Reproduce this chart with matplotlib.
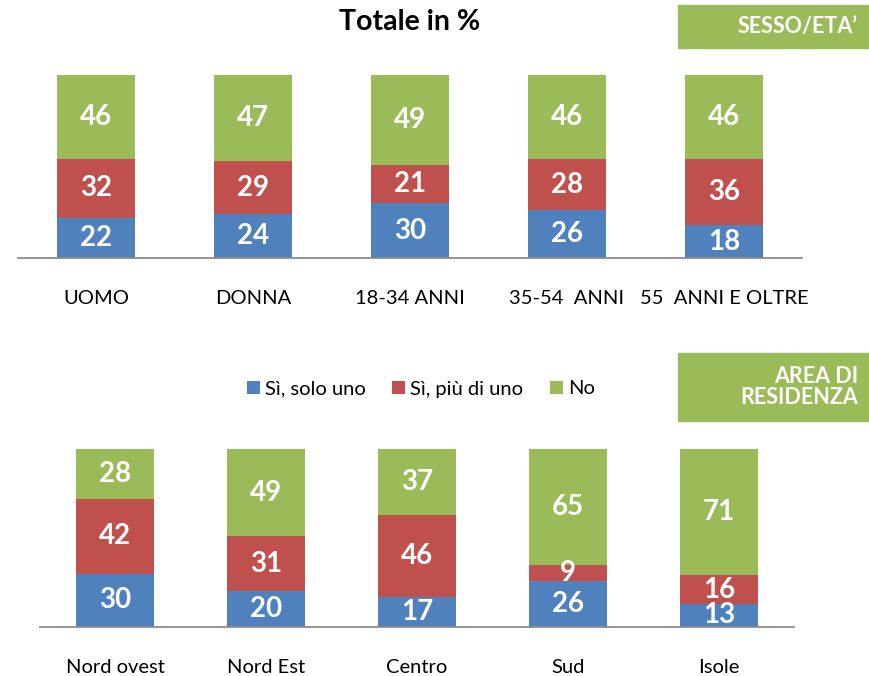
import matplotlib
matplotlib.use("Agg")
import matplotlib.pyplot as plt
from matplotlib.patches import Rectangle, Patch
from matplotlib import font_manager

available = {f.name for f in font_manager.fontManager.ttflist}
families = [f for f in ["Liberation Sans Narrow", "Lato", "DejaVu Sans"] if f in available]
plt.rcParams['font.family'] = families

# Data
series_names = ["Sì, solo uno", "Sì, più di uno", "No"]
colors = ["#4F81BD", "#C0504D", "#9BBB59"]

top_categories = ["UOMO", "DONNA", "18-34 ANNI", "35-54  ANNI", "55  ANNI E OLTRE"]
top_solo_uno = [22, 24, 30, 26, 18]
top_piu_di_uno = [32, 29, 21, 28, 36]
top_no = [46, 47, 49, 46, 46]

bottom_categories = ["Nord ovest", "Nord Est", "Centro", "Sud", "Isole"]
bottom_solo_uno = [30, 20, 17, 26, 13]
bottom_piu_di_uno = [42, 31, 46, 9, 16]
bottom_no = [28, 49, 37, 65, 71]

W, H = 870, 676
fig = plt.figure(figsize=(W / 100, H / 100), dpi=100)


def px_axes(left, bottom_y, width, height):
    # left / width in px from the left, bottom_y = baseline px from top
    return fig.add_axes([left / W, (H - bottom_y) / H, width / W, height / H])


def stacked(ax, categories, series, bar_width):
    x = list(range(len(categories)))
    base = [0] * len(categories)
    for vals, col in zip(series, colors):
        ax.bar(x, vals, bottom=base, width=bar_width, color=col, edgecolor="none", zorder=2)
        for xi, b, v in zip(x, base, vals):
            ax.text(xi, b + v / 2, str(v), ha="center", va="center", color="white",
                    fontsize=20, fontweight="bold", zorder=3)
        base = [b + v for b, v in zip(base, vals)]
    ax.set_xlim(-0.5, len(categories) - 0.5)
    ax.set_ylim(0, 100)
    ax.set_xticks(x)
    ax.set_xticklabels(categories, fontsize=14.5)
    ax.tick_params(axis="x", length=0, pad=23)
    ax.set_yticks([])
    for s in ["top", "right", "left"]:
        ax.spines[s].set_visible(False)
    ax.spines["bottom"].set_color("#8C8C8C")
    ax.spines["bottom"].set_linewidth(1.3)
    ax.patch.set_visible(False)


ax_top = px_axes(17.5, 258, 785, 183)
stacked(ax_top, top_categories, [top_solo_uno, top_piu_di_uno, top_no], 0.5)

ax_bot = px_axes(39.5, 627, 755, 178)
stacked(ax_bot, bottom_categories, [bottom_solo_uno, bottom_piu_di_uno, bottom_no], 0.517)

# Title
fig.text(410 / W, 1 - 22 / H, "Totale in %", ha="center", va="center",
         fontsize=20.5, fontweight="bold", color="black")

# Section boxes
green = "#9BBB59"
fig.patches.append(Rectangle((678 / W, 1 - 48 / H), (W - 678) / W, 43 / H,
                             transform=fig.transFigure, color=green, zorder=0))
fig.text(858 / W, 1 - 27 / H, "SESSO/ETA’", ha="right", va="center",
         fontsize=15.5, fontweight="bold", color="white")
fig.patches.append(Rectangle((678 / W, 1 - 421 / H), (W - 678) / W, 68 / H,
                             transform=fig.transFigure, color=green, zorder=0))
fig.text(858 / W, 1 - 387 / H, "AREA DI\nRESIDENZA", ha="right", va="center",
         fontsize=15.5, fontweight="bold", color="white", linespacing=1.05)

# Legend
handles = [Patch(facecolor=c, edgecolor="none") for c in colors]
fig.legend(handles, series_names, loc="center", bbox_to_anchor=(421 / W, 1 - 389 / H),
           ncol=3, frameon=False, fontsize=14.5, handlelength=0.65, handleheight=0.65,
           handletextpad=0.25, columnspacing=1.3)

fig.savefig("out.png", dpi=100)
